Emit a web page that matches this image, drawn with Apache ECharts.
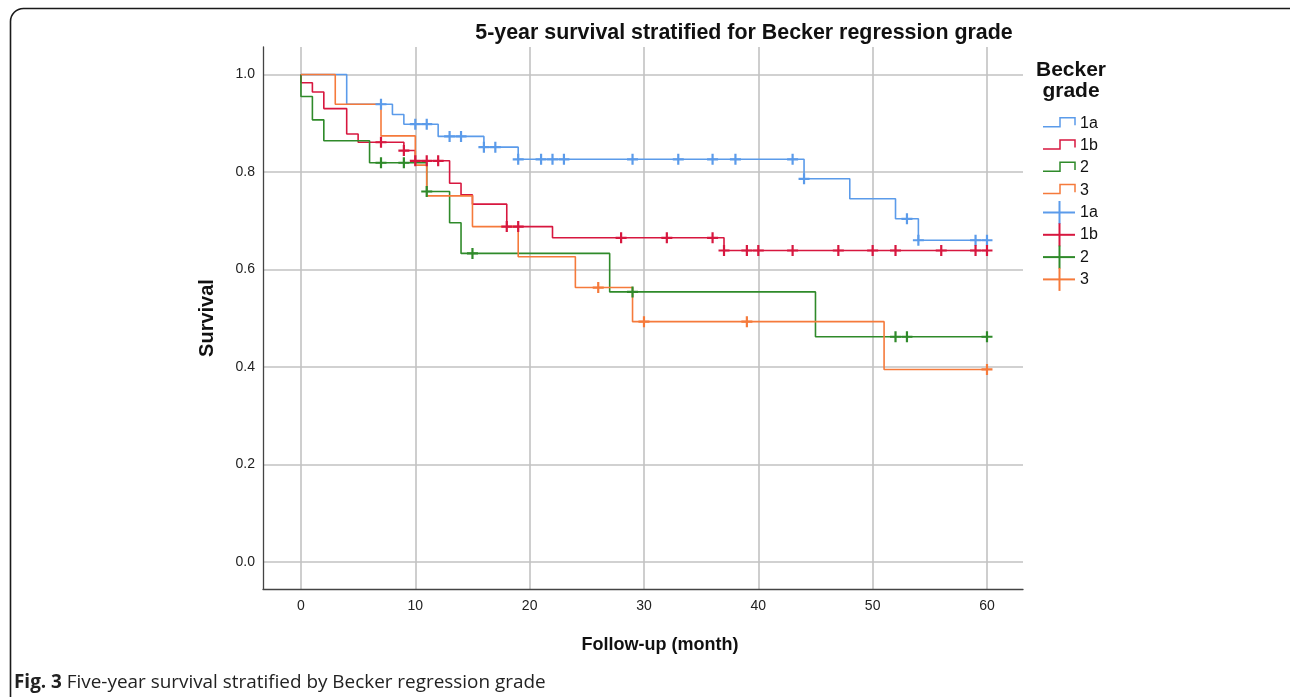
<!DOCTYPE html>
<html><head><meta charset="utf-8">
<script src="https://cdn.jsdelivr.net/npm/echarts@6/dist/echarts.min.js"></script>
<style>html,body{margin:0;padding:0;background:#fff}#c{width:1290px;height:697px}</style>
</head><body><div id="c"></div>
<script>
// ---- data ----
const groupNames = ['1a', '1b', '2', '3'];
const times1a = [0, 4, 8, 9, 12, 16, 19, 44, 48, 52, 54, 60];
const surv1a  = [1, 0.939, 0.918, 0.898, 0.873, 0.851, 0.826, 0.786, 0.745, 0.704, 0.660, 0.660];
const cens1a  = [7, 10, 11, 13, 14, 16, 17, 19, 21, 22, 23, 29, 33, 36, 38, 43, 44, 53, 54, 59, 60];

const times1b = [0, 0, 1, 2, 4, 5, 9, 10, 13, 14, 15, 18, 22, 37, 60];
const surv1b  = [1, 0.983, 0.964, 0.930, 0.878, 0.861, 0.844, 0.823, 0.777, 0.753, 0.734, 0.688, 0.665, 0.639, 0.639];
const cens1b  = [7, 9, 10, 11, 12, 18, 19, 28, 32, 36, 37, 39, 40, 43, 47, 50, 52, 56, 59, 60];

const times2 = [0, 0, 1, 2, 6, 11, 13, 14, 27, 45, 60];
const surv2  = [1, 0.955, 0.907, 0.864, 0.819, 0.760, 0.696, 0.633, 0.554, 0.462, 0.462];
const cens2  = [7, 9, 11, 15, 29, 52, 53, 60];

const times3 = [0, 3, 7, 10, 11, 15, 19, 24, 29, 51, 60];
const surv3  = [1, 0.939, 0.874, 0.814, 0.751, 0.688, 0.626, 0.563, 0.493, 0.395, 0.395];
const cens3  = [26, 30, 39, 60];

const xTickLabels = ['0', '10', '20', '30', '40', '50', '60'];
const yTickLabels = ['0.0', '0.2', '0.4', '0.6', '0.8', '1.0'];

// ---- styles ----
const colors = ['#5b9bea', '#d7173f', '#2f8a2a', '#f57a3b'];
const FONT = '"Liberation Sans", Arial, Helvetica, sans-serif';
const PLUS = 'path://M4.4,0 H6.6 V4.4 H11 V6.6 H6.6 V11 H4.4 V6.6 H0 V4.4 H4.4 Z';

const allTimes = [times1a, times1b, times2, times3];
const allSurv = [surv1a, surv1b, surv2, surv3];
const allCens = [cens1a, cens1b, cens2, cens3];

function pairs(t, s) { return t.map((v, i) => [v, s[i]]); }
function valueAt(t, s, x) {
  let v = s[0];
  for (let i = 0; i < t.length; i++) { if (t[i] <= x) v = s[i]; }
  return v;
}

const series = [];
groupNames.forEach((g, k) => {
  series.push({
    name: g, type: 'line', step: 'end', showSymbol: false, silent: true,
    data: pairs(allTimes[k], allSurv[k]),
    lineStyle: { color: colors[k], width: 1.6 },
    itemStyle: { color: colors[k] }, z: 3
  });
});
groupNames.forEach((g, k) => {
  series.push({
    name: g + ' censored', type: 'scatter', symbol: PLUS, symbolSize: 11, silent: true,
    data: allCens[k].map(c => [c, valueAt(allTimes[k], allSurv[k], c)]),
    itemStyle: { color: colors[k], opacity: 1 }, z: 4
  });
});

// legend built from group names
const legendChildren = [];
const legX = 1043, legY0 = 123.3, legStep = 22.3;
groupNames.forEach((g, k) => {
  const y = legY0 + k * legStep;
  legendChildren.push({
    type: 'polyline', shape: { points: [[legX, y + 3.4], [legX + 17, y + 3.4], [legX + 17, y - 5.6], [legX + 32, y - 5.6], [legX + 32, y + 2]] },
    style: { stroke: colors[k], lineWidth: 1.5, fill: null }
  });
  legendChildren.push({ type: 'text', x: legX + 37, y: y, style: { text: g, font: '16px ' + FONT, fill: '#111', verticalAlign: 'middle' } });
});
groupNames.forEach((g, k) => {
  const y = legY0 + (k + 4) * legStep;
  legendChildren.push({ type: 'line', shape: { x1: legX, y1: y, x2: legX + 32, y2: y }, style: { stroke: colors[k], lineWidth: 2 } });
  legendChildren.push({ type: 'line', shape: { x1: legX + 16.5, y1: y - 11.5, x2: legX + 16.5, y2: y + 11.5 }, style: { stroke: colors[k], lineWidth: 2 } });
  legendChildren.push({ type: 'text', x: legX + 37, y: y, style: { text: g, font: '16px ' + FONT, fill: '#111', verticalAlign: 'middle' } });
});

const chart = echarts.init(document.getElementById('c'), null, { renderer: 'canvas' });
chart.setOption({
  animation: false,
  backgroundColor: '#fff',
  grid: { left: 263, right: 267, top: 47, bottom: 108, containLabel: false },
  xAxis: {
    type: 'value', min: -3.32, max: 63.15, splitNumber: 6,
    axisLine: { show: true, onZero: false, lineStyle: { color: '#444', width: 1.3 } },
    axisTick: { show: false },
    axisLabel: {
      showMinLabel: false, showMaxLabel: false, margin: 10, color: '#222', fontSize: 14, fontFamily: FONT,
      formatter: v => { const i = Math.round(v / 10); return (Math.abs(v - i * 10) < 1e-6 && i >= 0 && i < xTickLabels.length) ? xTickLabels[i] : ''; }
    },
    splitLine: { show: true, showMinLine: false, showMaxLine: false, lineStyle: { color: '#c2c2c2', width: 1.6 } }
  },
  yAxis: {
    type: 'value', min: -0.0554, max: 1.0564, splitNumber: 5,
    axisLine: { show: true, onZero: false, lineStyle: { color: '#444', width: 1.3 } },
    axisTick: { show: false },
    axisLabel: {
      showMinLabel: false, showMaxLabel: false, margin: 8, color: '#222', fontSize: 14, fontFamily: FONT,
      padding: [4, 0, 0, 0],
      formatter: v => { const i = Math.round(v / 0.2); return (Math.abs(v - i * 0.2) < 1e-6 && i >= 0 && i < yTickLabels.length) ? yTickLabels[i] : ''; }
    },
    splitLine: { show: true, showMinLine: false, showMaxLine: false, lineStyle: { color: '#c2c2c2', width: 1.6 } }
  },
  series: series,
  graphic: [
    { type: 'rect', z: -10, silent: true, shape: { x: 10.5, y: 8.5, width: 1320, height: 740, r: 13 }, style: { fill: 'none', stroke: '#1a1a1a', lineWidth: 1.6 } },
    { type: 'text', x: 744, y: 33, style: { text: '5-year survival stratified for Becker regression grade', font: 'bold 21.4px ' + FONT, fill: '#111', align: 'center', verticalAlign: 'middle' } },
    { type: 'text', x: 207, y: 318, rotation: Math.PI / 2, style: { text: 'Survival', font: 'bold 20px ' + FONT, fill: '#111', align: 'center', verticalAlign: 'middle' } },
    { type: 'text', x: 660, y: 645, style: { text: 'Follow-up (month)', font: 'bold 18px ' + FONT, fill: '#111', align: 'center', verticalAlign: 'middle' } },
    { type: 'text', x: 1071, y: 70, style: { text: 'Becker', font: 'bold 21px ' + FONT, fill: '#111', align: 'center', verticalAlign: 'middle' } },
    { type: 'text', x: 1071, y: 91, style: { text: 'grade', font: 'bold 21px ' + FONT, fill: '#111', align: 'center', verticalAlign: 'middle' } },
    { type: 'group', children: legendChildren },
    { type: 'text', x: 14, y: 683, style: {
        text: '{b|Fig. 3} {r|Five-year survival stratified by Becker regression grade}',
        fontSize: 18.9, fontFamily: '"Open Sans", sans-serif', fill: '#222', verticalAlign: 'middle',
        rich: {
          b: { fontWeight: 'bold', fontSize: 18.9, fontFamily: '"Open Sans", sans-serif', fill: '#222' },
          r: { fontWeight: 'normal', fontSize: 18.9, fontFamily: '"Open Sans", sans-serif', fill: '#222' }
        } } }
  ]
});
</script>
</body></html>
